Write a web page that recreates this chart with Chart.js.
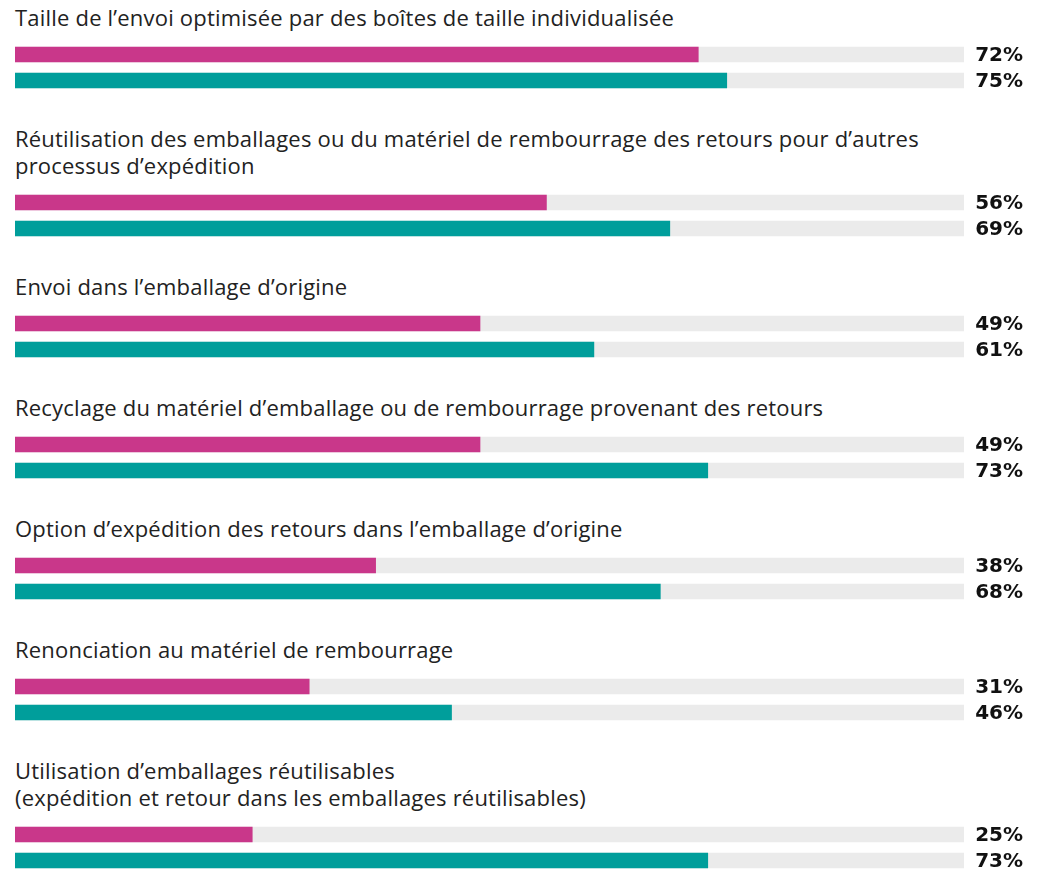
<!DOCTYPE html>
<html lang="fr">
<head>
<meta charset="utf-8">
<title>Emballages</title>
<script src="https://cdn.jsdelivr.net/npm/chart.js@4.4.1/dist/chart.umd.min.js"></script>
<style>
  html, body { margin: 0; padding: 0; background: #fff; overflow: hidden; }
  #wrap { padding-top: 4px; width: 1049px; }
  .titre { padding-left: 15px; font-family: "Open Sans", sans-serif; font-size: 22px; letter-spacing: 0.2px; line-height: 27px; color: #222; white-space: nowrap; }
  .barres { position: relative; width: 1049px; height: 94px; }
</style>
</head>
<body>
<div id="wrap"></div>
<script>
// Données
var titres = [
    ["Taille de l’envoi optimisée par des boîtes de taille individualisée"],
    ["Réutilisation des emballages ou du matériel de rembourrage des retours pour d’autres", "processus d’expédition"],
    ["Envoi dans l’emballage d’origine"],
    ["Recyclage du matériel d’emballage ou de rembourrage provenant des retours"],
    ["Option d’expédition des retours dans l’emballage d’origine"],
    ["Renonciation au matériel de rembourrage"],
    ["Utilisation d’emballages réutilisables", "(expédition et retour dans les emballages réutilisables)"]
];
var serieMagenta = [72, 56, 49, 49, 38, 31, 25];
var serieTurquoise = [75, 69, 61, 73, 68, 46, 73];
var maxValeur = 100;

var couleurs = ["#c9378a", "#009e9b"];
var couleurFond = "#ebebeb";

// Plugin pour les pourcentages à droite
var etiquettes = {
    id: 'etiquettes',
    afterDatasetsDraw: function (chart) {
        var ctx = chart.ctx;
        var meta = chart.getDatasetMeta(0);
        ctx.save();
        ctx.font = 'bold 20px "DejaVu Sans"';
        ctx.fillStyle = '#111';
        ctx.textAlign = 'right';
        ctx.textBaseline = 'middle';
        meta.data.forEach(function (bar, i) {
            ctx.fillText(chart.data.datasets[0].data[i] + '%', chart.chartArea.right + 59, bar.y + 1);
        });
        ctx.restore();
    }
};

var wrap = document.getElementById('wrap');

titres.forEach(function (lignes, i) {
    var titre = document.createElement('div');
    titre.className = 'titre';
    titre.innerHTML = lignes.join('<br>');
    wrap.appendChild(titre);

    var boite = document.createElement('div');
    boite.className = 'barres';
    var canvas = document.createElement('canvas');
    boite.appendChild(canvas);
    wrap.appendChild(boite);

    new Chart(canvas.getContext('2d'), {
        type: 'bar',
        data: {
            labels: ['a', 'b'],
            datasets: [{
                data: [serieMagenta[i], serieTurquoise[i]],
                backgroundColor: couleurs,
                barThickness: 15,
                grouped: false,
                order: 0
            }, {
                data: [maxValeur, maxValeur],
                backgroundColor: couleurFond,
                barThickness: 15,
                grouped: false,
                order: 1
            }]
        },
        options: {
            indexAxis: 'y',
            responsive: true,
            maintainAspectRatio: false,
            animation: false,
            layout: { padding: { left: 15, right: 85, top: 10.5, bottom: 31.5 } },
            scales: {
                x: { min: 0, max: maxValeur, display: false },
                y: { display: false }
            },
            plugins: { legend: { display: false }, tooltip: { enabled: false } }
        },
        plugins: [etiquettes]
    });
});
</script>
</body>
</html>
